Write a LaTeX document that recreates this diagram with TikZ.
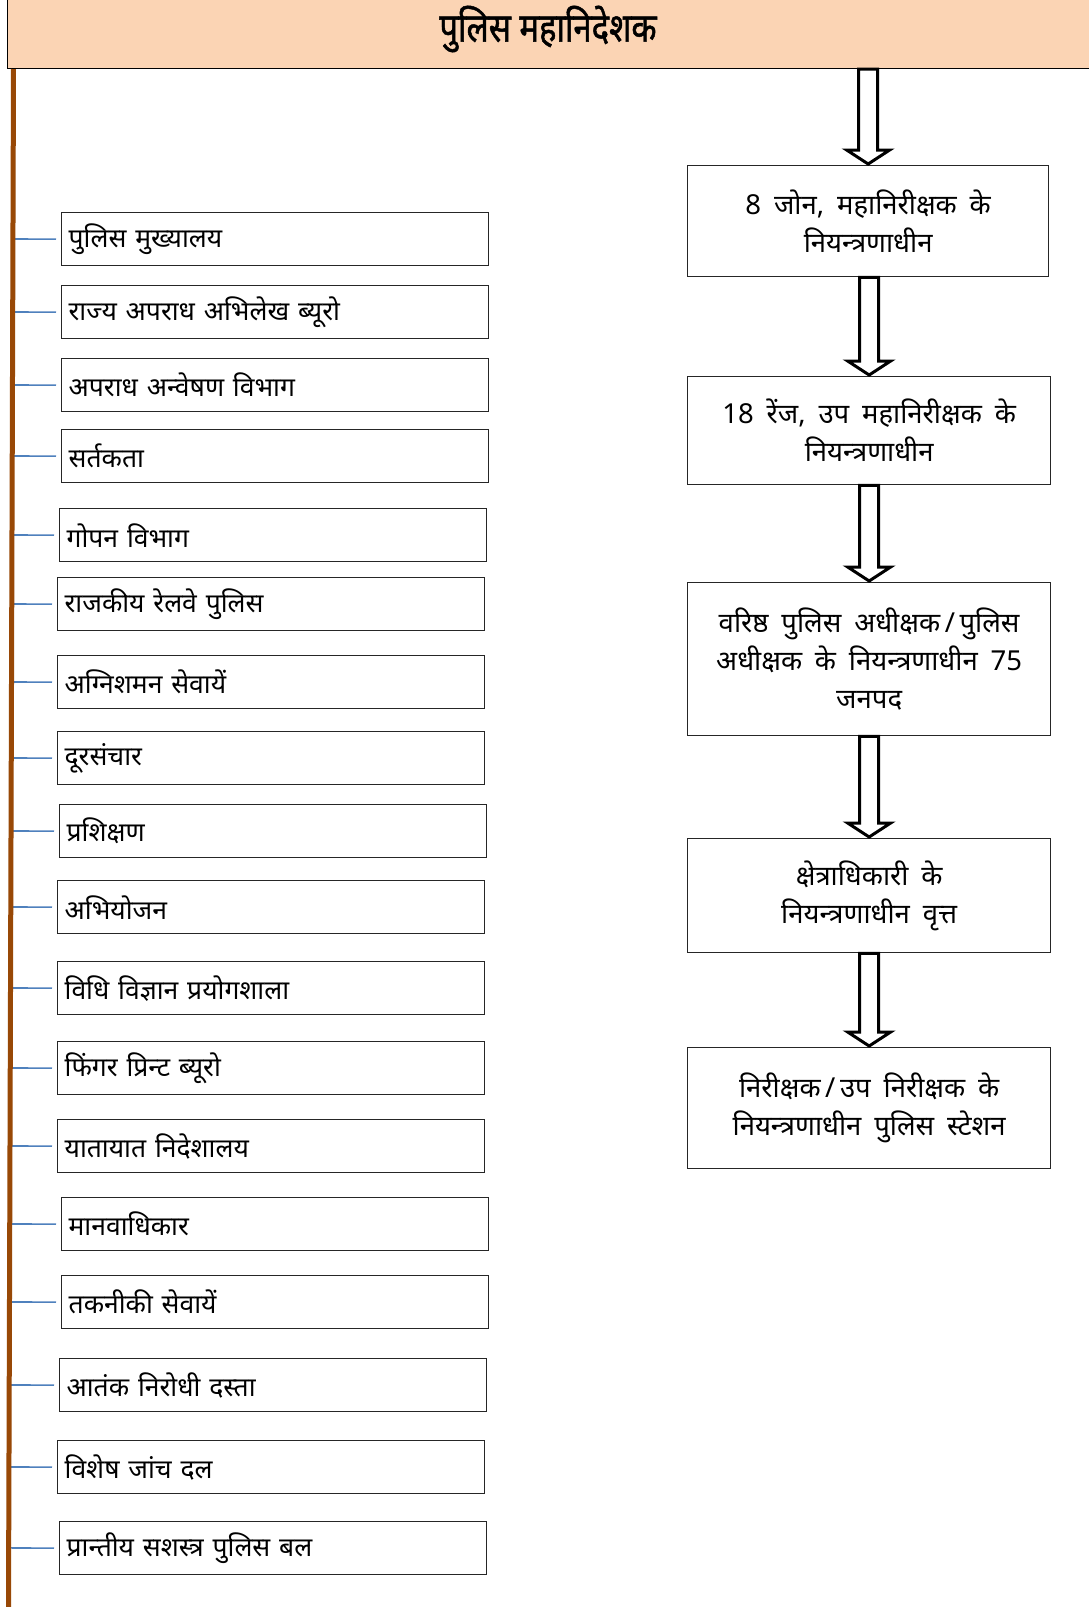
\documentclass[tikz,border=0pt]{standalone}
\usepackage{fontspec}
\newfontfamily\hindi[Script=Devanagari,WordSpace=2.0]{Noto Sans}
\newfontfamily\hindir[Script=Devanagari,WordSpace=1.8]{Noto Sans}
\newfontfamily\hinditl[Script=Devanagari,FakeStretch=0.82,FakeBold=1.2]{Noto Sans}
\usetikzlibrary{calc}
\definecolor{peach}{HTML}{FBD4B4}
\definecolor{trunkbrown}{HTML}{984806}
\definecolor{linkblue}{HTML}{4F81BD}
\definecolor{boxline}{HTML}{262626}
\newcommand\harr[2]{\draw[harrow] let \p1=(#1.south), \p2=(#2.north) in
  (\x2-9.5pt,\y1) -- (\x2-9.5pt,\y2+15pt) -- (\x2-21.5pt,\y2+15pt) -- (\x2,\y2+1pt)
  -- (\x2+21.5pt,\y2+15pt) -- (\x2+9.5pt,\y2+15pt) -- (\x2+9.5pt,\y1) -- cycle;}
\newcommand\slsh{\,/\,}
\begin{document}
\begin{tikzpicture}[x=1pt,y=-1pt,
  lbox/.style={draw=boxline, line width=1.3pt, minimum width=427pt, minimum height=53pt,
    text width=413pt, inner xsep=7pt, inner ysep=0pt, align=left, anchor=north west,
    font=\hindi\fontsize{26.5}{30}\selectfont},
  rbox/.style={draw=boxline, line width=1.3pt, anchor=north west, align=center,
    inner sep=0pt, font=\hindir\fontsize{27.5}{38}\selectfont},
  blink/.style={draw=linkblue, line width=1.6pt},
  trunk/.style={draw=trunkbrown, line width=5pt},
  harrow/.style={draw=black, line width=3pt, fill=white, miter limit=20}]
\useasboundingbox (0,0) rectangle (1088,1607);
\fill[white] (0,0) rectangle (1088,1607);
% title
\node[draw=black, fill=peach, line width=1pt, anchor=north west, minimum width=1090pt,
  minimum height=70pt, inner sep=0pt] (dg) at (7,-2) {};
\node[font=\hinditl\fontsize{40}{44}\selectfont] (dgt) at (548,29) {पुलिस महानिदेशक};
% left boxes
\node[lbox] (b1) at (61,212) {पुलिस मुख्यालय};
\node[lbox] (b2) at (61,285) {राज्य अपराध अभिलेख ब्यूरो};
\node[lbox] (b3) at (61,358) {अपराध अन्वेषण विभाग};
\node[lbox] (b4) at (61,429) {सर्तकता};
\node[lbox] (b5) at (59,508) {गोपन विभाग};
\node[lbox] (b6) at (57,577) {राजकीय रेलवे पुलिस};
\node[lbox] (b7) at (57,655) {अग्निशमन सेवायें};
\node[lbox] (b8) at (57,731) {दूरसंचार};
\node[lbox] (b9) at (59,804) {प्रशिक्षण};
\node[lbox] (b10) at (57,880) {अभियोजन};
\node[lbox] (b11) at (57,961) {विधि विज्ञान प्रयोगशाला};
\node[lbox] (b12) at (57,1041) {फिंगर प्रिन्ट ब्यूरो};
\node[lbox] (b13) at (57,1119) {यातायात निदेशालय};
\node[lbox] (b14) at (61,1197) {मानवाधिकार};
\node[lbox] (b15) at (61,1275) {तकनीकी सेवायें};
\node[lbox] (b16) at (59,1358) {आतंक निरोधी दस्ता};
\node[lbox] (b17) at (57,1440) {विशेष जांच दल};
\node[lbox] (b18) at (59,1521) {प्रान्तीय सशस्त्र पुलिस बल};
% right boxes
\node[rbox, minimum width=361pt, minimum height=111pt] (r1) at (687,165)
  {8 जोन, महानिरीक्षक के\\नियन्त्रणाधीन};
\node[rbox, minimum width=363pt, minimum height=108pt] (r2) at (687,376)
  {18 रेंज, उप महानिरीक्षक के\\नियन्त्रणाधीन};
\node[rbox, minimum width=363pt, minimum height=153pt] (r3) at (687,582)
  {वरिष्ठ पुलिस अधीक्षक\slsh पुलिस\\अधीक्षक के नियन्त्रणाधीन 75\\जनपद};
\node[rbox, minimum width=363pt, minimum height=114pt] (r4) at (687,838)
  {क्षेत्राधिकारी के\\नियन्त्रणाधीन वृत्त};
\node[rbox, minimum width=363pt, minimum height=121pt] (r5) at (687,1047)
  {निरीक्षक\slsh उप निरीक्षक के\\नियन्त्रणाधीन पुलिस स्टेशन};
% trunk and links
\coordinate (t1) at (13.5,69);
\coordinate (t2) at (8.5,1607);
\foreach \i in {1,...,18}{
  \draw[blink] ($(t1)!(b\i.west)!(t2)$) -- ($(b\i.west)+(-5,0)$);
}
\draw[trunk] (t1) -- (t2);
% arrows
\harr{dg}{r1}
\harr{r1}{r2}
\harr{r2}{r3}
\harr{r3}{r4}
\harr{r4}{r5}
\end{tikzpicture}
\end{document}
